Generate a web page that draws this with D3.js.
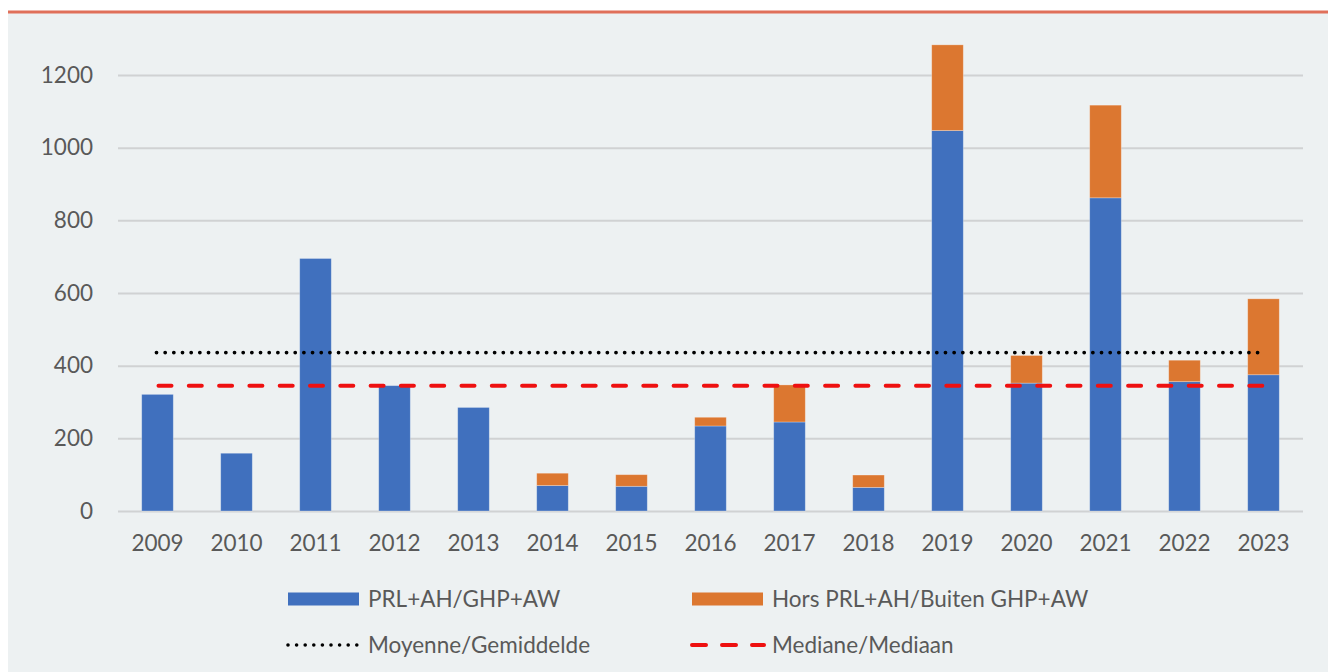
<!DOCTYPE html>
<html>
<head>
<meta charset="utf-8">
<script src="https://cdn.jsdelivr.net/npm/d3@7"></script>
<style>
  html, body { margin: 0; padding: 0; background: #fff; }
  svg { display: block; font-family: Lato, "Open Sans", sans-serif; }
</style>
</head>
<body>
<svg id="chart"></svg>
<script>
// years on the x axis
const years = ['2009', '2010', '2011', '2012', '2013', '2014', '2015', '2016',
               '2017', '2018', '2019', '2020', '2021', '2022', '2023'];
// PRL+AH/GHP+AW
const inScope = [321, 159, 695, 345, 285, 70, 68, 234, 245, 65, 1047, 352, 862, 356, 375];
// Hors PRL+AH/Buiten GHP+AW
const outScope = [0, 0, 0, 0, 0, 34, 32, 24, 102, 34, 236, 76, 255, 59, 209];
const yTicks = [0, 200, 400, 600, 800, 1000, 1200];

const W = 1328, H = 672;
const blue = '#4070be', orange = '#dc7730';
const fontSize = '22.5px';

const svg = d3.select('#chart').attr('width', W).attr('height', H);

// panel background + top rule
svg.append('rect').attr('x', 8).attr('y', 12).attr('width', W - 8).attr('height', H - 12)
  .attr('fill', '#edf1f2');
svg.append('line').attr('x1', 8).attr('x2', W).attr('y1', 12).attr('y2', 12)
  .attr('stroke', '#e0705a').attr('stroke-width', 3);

const x = d3.scaleBand().domain(years).range([118, 1303]).paddingInner(0.6).paddingOuter(0.3);
const y = d3.scaleLinear().domain([0, 1200]).range([511, 75]);

// gridlines + y labels
const yAxis = svg.append('g').attr('transform', 'translate(118,0)')
  .call(d3.axisLeft(y).tickValues(yTicks).tickFormat(d3.format('d'))
    .tickSize(-(1303 - 118)).tickPadding(25));
yAxis.select('.domain').remove();
yAxis.selectAll('.tick line').attr('stroke', '#d0d2d3').attr('stroke-width', 2);
yAxis.selectAll('.tick text').attr('fill', '#595959').style('font-size', fontSize)
  .attr('font-family', 'Lato, "Open Sans", sans-serif');

// x labels
const xAxis = svg.append('g').attr('transform', 'translate(0,511)')
  .call(d3.axisBottom(x).tickSize(0).tickPadding(24));
xAxis.select('.domain').remove();
xAxis.selectAll('.tick text').attr('fill', '#595959').style('font-size', fontSize)
  .attr('font-family', 'Lato, "Open Sans", sans-serif');

// stacked bars
const rows = years.map((yr, i) => ({ year: yr, a: inScope[i], b: outScope[i] }));
const stacked = d3.stack().keys(['a', 'b'])(rows);
const colors = { a: blue, b: orange };

svg.append('g').selectAll('g')
  .data(stacked)
  .join('g')
  .attr('fill', d => colors[d.key])
  .selectAll('rect')
  .data(d => d.filter(p => p[1] > p[0]))
  .join('rect')
  .attr('x', d => x(d.data.year))
  .attr('width', x.bandwidth())
  .attr('y', d => y(d[1]))
  .attr('height', d => y(d[0]) - y(d[1]))
  .attr('stroke', 'rgba(255,255,255,0.35)')
  .attr('stroke-width', 0.8);

// mean and median of the totals
const totals = rows.map(r => r.a + r.b);
const mean = d3.mean(totals);
const median = d3.median(totals);
const x0 = x(years[0]) + x.bandwidth() / 2 - 1;
const x1 = x(years[years.length - 1]) + x.bandwidth() / 2 + 1;

svg.append('line').attr('x1', x0).attr('x2', x1).attr('y1', y(mean)).attr('y2', y(mean))
  .attr('stroke', '#000').attr('stroke-width', 3.8).attr('stroke-linecap', 'round')
  .attr('stroke-dasharray', '0 8.67');
svg.append('line').attr('x1', x0).attr('x2', x1 + 4).attr('y1', y(median)).attr('y2', y(median))
  .attr('stroke', '#ee1010').attr('stroke-width', 4).attr('stroke-linecap', 'round')
  .attr('stroke-dasharray', '13 17.3').attr('stroke-dashoffset', -2);

// legend
const legend = svg.append('g').style('font-size', fontSize).attr('fill', '#595959');
const items = [
  { label: 'PRL+AH/GHP+AW', kind: 'rect', color: blue, x: 288, y: 599 },
  { label: 'Hors PRL+AH/Buiten GHP+AW', kind: 'rect', color: orange, x: 692, y: 599 },
  { label: 'Moyenne/Gemiddelde', kind: 'dot', color: '#000', x: 288, y: 645 },
  { label: 'Mediane/Mediaan', kind: 'dash', color: '#ee1010', x: 692, y: 645 }
];
items.forEach(it => {
  if (it.kind === 'rect') {
    legend.append('rect').attr('x', it.x).attr('y', it.y - 6.5).attr('width', 71).attr('height', 13)
      .attr('fill', it.color);
  } else if (it.kind === 'dot') {
    legend.append('line').attr('x1', it.x).attr('x2', it.x + 72).attr('y1', it.y).attr('y2', it.y)
      .attr('stroke', it.color).attr('stroke-width', 3.6).attr('stroke-linecap', 'round')
      .attr('stroke-dasharray', '0 8.6');
  } else {
    legend.append('line').attr('x1', it.x).attr('x2', it.x + 72).attr('y1', it.y).attr('y2', it.y)
      .attr('stroke', it.color).attr('stroke-width', 4).attr('stroke-linecap', 'round')
      .attr('stroke-dasharray', '14 16');
  }
  legend.append('text').attr('x', 368 + (it.x - 288)).attr('y', it.y)
    .attr('dy', '0.35em').text(it.label);
});
</script>
</body>
</html>
